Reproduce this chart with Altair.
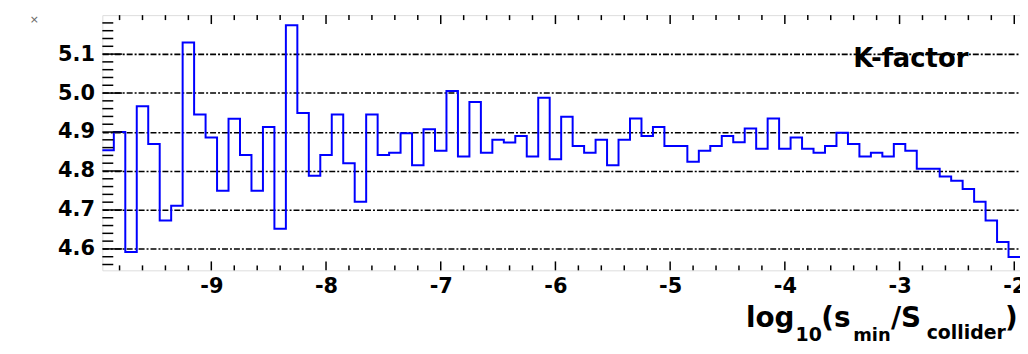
import altair as alt
import numpy as np
import pandas as pd

# ---- data (bin width 0.1) ----
bin_start = -9.95
bin_width = 0.1
kfactor = [4.853, 4.900, 4.592, 4.966, 4.869, 4.673, 4.711, 5.130, 4.945, 4.886,
           4.749, 4.934, 4.841, 4.749, 4.913, 4.652, 5.174, 4.949, 4.788, 4.841,
           4.945, 4.820, 4.721, 4.945, 4.841, 4.847, 4.897, 4.815, 4.907, 4.852,
           5.005, 4.837, 4.977, 4.847, 4.880, 4.873, 4.890, 4.837, 4.988, 4.830,
           4.939, 4.864, 4.847, 4.880, 4.815, 4.880, 4.935, 4.890, 4.913, 4.864,
           4.864, 4.824, 4.852, 4.864, 4.890, 4.874, 4.909, 4.857, 4.935, 4.857,
           4.886, 4.857, 4.847, 4.864, 4.898, 4.869, 4.837, 4.847, 4.837, 4.869,
           4.852, 4.806, 4.806, 4.786, 4.775, 4.754, 4.721, 4.673, 4.618, 4.579]

x_tick_labels = [-9, -8, -7, -6, -5, -4, -3, -2]
y_tick_labels = [4.6, 4.7, 4.8, 4.9, 5.0, 5.1]

x_domain = [-9.95, -1.95]
y_domain = [4.545, 5.2]

W, H = 924, 257
FONT = "DejaVu Sans"

n = len(kfactor)
edges = [round(bin_start + i * bin_width, 4) for i in range(n + 1)]
hist = pd.DataFrame({"x": edges, "y": kfactor + [kfactor[-1]]})

x_minor = [round(v, 2) for v in np.arange(-9.8, -1.95, 0.2) if abs(v - round(v)) > 1e-6]
y_minor = [round(v, 2) for v in np.arange(4.56, 5.195, 0.02) if abs(v * 10 - round(v * 10)) > 1e-6]

xs = alt.Scale(domain=x_domain, nice=False, zero=False)
ys = alt.Scale(domain=y_domain, nice=False, zero=False)

base_axes = alt.Chart(hist).mark_line(opacity=0).encode(
    x=alt.X("x:Q", scale=xs,
            axis=alt.Axis(values=x_tick_labels, title=None, ticks=False, domain=False, grid=False,
                          labelFont=FONT, labelFontWeight="bold", labelFontSize=21,
                          labelColor="black", labelPadding=5,
                          labelExpr="'' + datum.value")),
    y=alt.Y("y:Q", scale=ys,
            axis=alt.Axis(values=y_tick_labels, title=None, ticks=False, domain=False, grid=True,
                          gridColor="black", gridWidth=1.6, gridDash=[6, 2, 2, 2],
                          labelFont=FONT, labelFontWeight="bold", labelFontSize=21,
                          labelColor="black", labelPadding=8, format="g")),
)

line = alt.Chart(hist).mark_line(interpolate="step-after", color="#0000ff", strokeWidth=2).encode(
    x=alt.X("x:Q", scale=xs), y=alt.Y("y:Q", scale=ys)
)

def xticks(vals, length):
    df = pd.DataFrame({"v": vals})
    bot = alt.Chart(df).mark_rule(color="black", strokeWidth=1.5).encode(
        x=alt.X("v:Q", scale=xs), y=alt.value(H), y2=alt.value(H - length))
    top = alt.Chart(df).mark_rule(color="black", strokeWidth=1.5).encode(
        x=alt.X("v:Q", scale=xs), y=alt.value(0), y2=alt.value(length))
    return bot + top

def yticks(vals, length):
    df = pd.DataFrame({"v": vals})
    return alt.Chart(df).mark_rule(color="black", strokeWidth=1.5).encode(
        y=alt.Y("v:Q", scale=ys), x=alt.value(0), x2=alt.value(length))

def txt(s, x, y, size, color="black", weight="bold"):
    return alt.Chart(pd.DataFrame({"t": [s]})).mark_text(
        align="left", baseline="alphabetic", font=FONT, fontSize=size,
        fontWeight=weight, color=color
    ).encode(text="t:N", x=alt.value(x), y=alt.value(y))

labels = (
    txt("K-factor", 756, 52, 26)
    + txt("log", 648, 314, 28)
    + txt("10", 698, 328, 19)
    + txt("(s", 724, 314, 28)
    + txt("min", 756, 328, 18)
    + txt("/S", 794, 314, 28)
    + txt("collider", 830, 326, 19)
    + txt(")", 909, 314, 28)
    + txt("×", -73, 8, 11, color="#666666", weight="normal")
)

chart = alt.layer(
    base_axes,
    line,
    xticks(x_tick_labels, 9), xticks(x_minor, 5),
    yticks(y_tick_labels, 20), yticks(y_minor, 11),
    labels,
).properties(
    width=W, height=H,
    padding={"left": 95, "top": 6, "right": 0, "bottom": 75},
    autosize=alt.AutoSizeParams(type="none"),
).configure_view(stroke="black", strokeWidth=2).configure(background="white")

chart.save("out.html", embed_options={"renderer": "svg", "actions": False})
